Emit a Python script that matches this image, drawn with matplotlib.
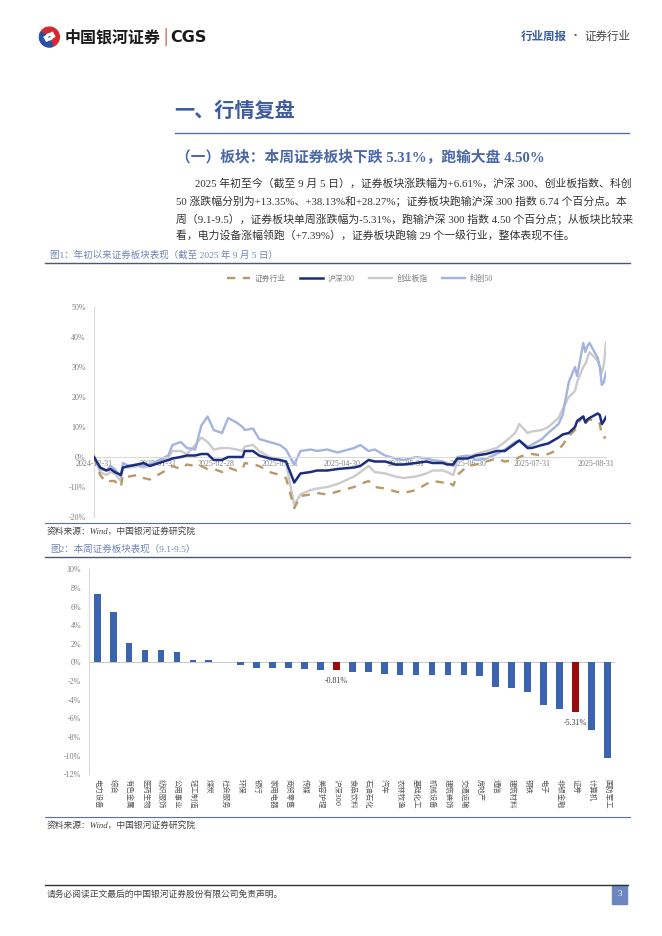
import matplotlib
matplotlib.use('Agg')
import matplotlib.pyplot as plt
from matplotlib.patches import Rectangle, Wedge, Circle
import pandas as pd

W, H = 662, 936
SERIF = ['Liberation Serif', 'Noto Sans CJK SC']
SANS = ['Noto Sans CJK SC', 'DejaVu Sans']
plt.rcParams['font.family'] = SERIF

# ---- figure 1 data: cumulative change since 2024-12-31 (%) ----
dates = ['2024-12-31', '2025-01-03', '2025-01-06', '2025-01-08', '2025-01-10', '2025-01-13',
         '2025-01-14', '2025-01-17', '2025-01-21', '2025-01-24', '2025-01-27', '2025-02-05',
         '2025-02-07', '2025-02-11', '2025-02-14', '2025-02-18', '2025-02-21', '2025-02-24',
         '2025-02-27', '2025-03-03', '2025-03-06', '2025-03-10', '2025-03-13', '2025-03-14',
         '2025-03-18', '2025-03-21', '2025-03-26', '2025-03-31', '2025-04-03', '2025-04-07',
         '2025-04-10', '2025-04-15', '2025-04-18', '2025-04-23', '2025-04-28', '2025-05-06',
         '2025-05-09', '2025-05-13', '2025-05-16', '2025-05-21', '2025-05-26', '2025-05-30',
         '2025-06-05', '2025-06-10', '2025-06-13', '2025-06-18', '2025-06-20', '2025-06-23',
         '2025-06-25', '2025-06-30', '2025-07-04', '2025-07-09', '2025-07-14', '2025-07-18',
         '2025-07-23', '2025-07-25', '2025-07-29', '2025-07-31', '2025-08-05', '2025-08-08',
         '2025-08-13', '2025-08-15', '2025-08-18', '2025-08-21', '2025-08-22', '2025-08-25',
         '2025-08-26', '2025-08-27', '2025-08-28', '2025-09-01', '2025-09-02', '2025-09-03',
         '2025-09-04', '2025-09-05']
sec = [0, -6, -8.5, -8, -8, -10, -6, -6.5, -6, -7, -7.5, -4, -3, -4, -2.5, -3, -3, -4,
       -4, -5, -3.5, -4.5, -4, -2, -2.5, -3, -5, -6, -7, -17, -13, -12.5, -12, -12.5, -11.5,
       -10, -9, -8, -10, -10.5, -11.5, -12, -11, -9, -8, -8.5, -8, -9.5, -6, -3, -2.5, -1.5,
       -0.5, -1.5, -1, 0, 1, 1, 0.5, 1, 2.5, 4, 7, 9, 11, 13.5, 11, 12, 12.5, 12, 11, 7,
       6.5, 6.61]
hs300 = [0, -3.5, -4.5, -4, -5, -6, -3.5, -3, -2.5, -2, -3, -1, -0.5, 0, 0.5, 0.5, 1, 1,
         -1, -1, 0, 0, 0, 2, 2, 0.5, -0.5, -1, -1.5, -8.5, -5.5, -5, -4.5, -4.5, -4, -3.5,
         -3, -1, -1.5, -1.5, -2.5, -2.5, -2, -1.5, -2, -2, -2.5, -2.5, -0.5, -0.5, 0.5, 1,
         2, 2, 4.5, 5.5, 3, 3, 4, 4.5, 6.5, 7.5, 8, 10, 12, 13.5, 11.5, 12.5, 13, 14.5, 14,
         11, 12, 13.35]
cyb = [0, -5, -6, -5, -5.5, -8, -3.5, -3.5, -3, -3.5, -3, 0, 2, 2, 1, 4, 6.5, 5, 2.5, 3,
       3, 2.5, 2, 3.5, 4, 2, 0, -1, -2, -16, -12.5, -11, -10.5, -10, -9, -6.5, -5, -3, -5,
       -5.5, -6.5, -7, -6.5, -5.5, -4.5, -4.5, -5, -6, -1.5, 0, 1, 2, 3, 5, 8, 11, 8, 8.5,
       9, 10, 13, 16, 20, 22, 25, 30, 31, 33, 35, 32, 30, 28, 31, 38.13]
kc50 = [0, -4, -4.5, -3, -4, -6.5, -2, -3, -2.5, -3, -2.5, 0.5, 4, 5, 3, 2.5, 10.5, 13.5,
        9, 8, 13, 11.5, 10, 9, 9.5, 6, 5, 4, 2.5, -2.5, 2, 2.5, 2, 2.5, 1.5, 3, 4, 2, 2.5,
        0.5, -0.5, -1, 0, -0.5, -1, -1.5, -2, -3, 0, 0.5, -1, -0.5, 1, 2.5, 5, 5.5, 3.5, 4,
        6, 8, 11, 14, 25, 30, 27, 38, 35, 37, 38, 33, 30, 24, 25, 28.27]
month_ticks = ['2024-12-31', '2025-01-31', '2025-02-28', '2025-03-31', '2025-04-30',
               '2025-05-31', '2025-06-30', '2025-07-31', '2025-08-31']

# ---- figure 2 data: weekly change 9.1-9.5 (%) ----
industries = ['电力设备', '综合', '有色金属', '医药生物', '纺织服饰', '公用事业', '轻工制造', '煤炭',
              '社会服务', '环保', '银行', '家用电器', '商贸零售', '传媒', '美容护理', '沪深300',
              '食品饮料', '石油石化', '汽车', '农林牧渔', '基础化工', '机械设备', '建筑装饰',
              '交通运输', '房地产', '通信', '建筑材料', '钢铁', '电子', '非银金融', '证券',
              '计算机', '国防军工']
week_chg = [7.39, 5.38, 2.04, 1.36, 1.32, 1.14, 0.29, 0.29, 0.0, -0.32, -0.54, -0.57, -0.64,
            -0.68, -0.78, -0.81, -0.99, -1.07, -1.25, -1.32, -1.36, -1.36, -1.36, -1.36,
            -1.47, -2.68, -2.75, -3.18, -4.54, -4.94, -5.31, -7.26, -10.23]
highlight = ['沪深300', '证券']


def fx(x):
    return x / W


def fy(y):
    return 1 - y / H


def hline(fig, x0, x1, y, color, lw):
    fig.add_artist(plt.Line2D([fx(x0), fx(x1)], [fy(y), fy(y)], color=color, lw=lw,
                              transform=fig.transFigure))


fig = plt.figure(figsize=(W / 100, H / 100), dpi=100)
fig.patch.set_facecolor('white')

# ---- header ----
lax = fig.add_axes([fx(38), fy(48), fx(22), 22 / H])
lax.set_xlim(0, 1)
lax.set_ylim(0, 1)
lax.set_aspect('equal')
lax.axis('off')
lax.add_patch(Circle((0.52, 0.5), 0.45, color='#D7282F'))
lax.add_patch(Wedge((0.52, 0.5), 0.45, 150, 290, color='#2552A3'))
lax.add_patch(Wedge((0.56, 0.44), 0.22, 20, 220, width=0.08, color='white'))
lax.add_patch(Wedge((0.48, 0.58), 0.22, 200, 40, width=0.08, color='white'))
fig.text(fx(65), fy(37), '中国银河证券', family=SANS, fontsize=11.5, fontweight='bold',
         color='#1a1a1a', va='center')
fig.text(fx(163), fy(37), '|', family=SANS, fontsize=11, color='#C0392B', va='center')
fig.text(fx(170), fy(37), 'CGS', family=['DejaVu Sans'], fontsize=11.5, fontweight='bold',
         color='#1a1a1a', va='center')
fig.text(fx(521), fy(36), '行业周报', family=SANS, fontsize=8.3, fontweight='bold',
         color='#3A5BA0', va='center')
fig.text(fx(575), fy(36), '·', family=SANS, fontsize=8, color='#555555', va='center',
         ha='center')
fig.text(fx(584), fy(36), '证券行业', family=SANS, fontsize=8.3, color='#444444', va='center')

# ---- section titles and paragraph ----
fig.text(fx(174), fy(110), '一、行情复盘', family=SANS, fontsize=14.5, fontweight='bold',
         color='#3F5C9E', va='center')
hline(fig, 175, 629, 133, '#5B6FA6', 1.0)
fig.text(fx(176), fy(157), '（一）板块：本周证券板块下跌 5.31%，跑输大盘 4.50%',
         fontsize=10.6, fontweight='bold', color='#4A67A6', va='center')

para = ['2025 年初至今（截至 9 月 5 日），证券板块涨跌幅为+6.61%，沪深 300、创业板指数、科创',
        '50 涨跌幅分别为+13.35%、+38.13%和+28.27%；证券板块跑输沪深 300 指数 6.74 个百分点。本',
        '周（9.1-9.5），证券板块单周涨跌幅为-5.31%，跑输沪深 300 指数 4.50 个百分点；从板块比较来',
        '看，电力设备涨幅领跑（+7.39%），证券板块跑输 29 个一级行业，整体表现不佳。']
para_y = [183, 201, 219, 236]
para_x = [195, 176, 176, 176]
for s, x, y in zip(para, para_x, para_y):
    fig.text(fx(x), fy(y), s, fontsize=7.8, color='#333333', va='center')

# ---- figure 1 ----
cap_color = '#6F84B8'
fig.text(fx(50), fy(255), '图1：年初以来证券板块表现（截至 2025 年 9 月 5 日）', fontsize=6.8,
         color=cap_color, va='center')
hline(fig, 45, 630, 263, '#4A5878', 1.0)

d = pd.to_datetime(dates)
ax1 = fig.add_axes([fx(94), fy(517), fx(606 - 94), (517 - 307) / H])
l_sec, = ax1.plot(d, sec, color='#B9996A', lw=1.7, ls=(0, (3.5, 3.2)), label='证券行业', zorder=3)
l_cyb, = ax1.plot(d, cyb, color='#CBCBCB', lw=1.7, label='创业板指', zorder=2)
l_kc, = ax1.plot(d, kc50, color='#A3B4DF', lw=1.7, label='科创50', zorder=2.5)
l_hs, = ax1.plot(d, hs300, color='#1C2D7E', lw=1.8, label='沪深300', zorder=4)
ax1.set_ylim(-20, 50)
ax1.set_xlim(pd.Timestamp('2024-12-31'), pd.Timestamp('2025-09-05'))
ax1.set_yticks(range(-20, 51, 10))
ax1.set_yticklabels([f'{v}%' for v in range(-20, 51, 10)])
ax1.set_xticks(pd.to_datetime(month_ticks))
ax1.set_xticklabels(month_ticks)
for s in ['top', 'right']:
    ax1.spines[s].set_visible(False)
ax1.spines['bottom'].set_position(('data', 0))
ax1.spines['bottom'].set_color('#D9D9D9')
ax1.spines['left'].set_color('#D9D9D9')
ax1.spines['bottom'].set_linewidth(0.8)
ax1.spines['left'].set_linewidth(0.8)
ax1.tick_params(axis='both', length=0, labelsize=5.8, labelcolor='#7F7F7F')
ax1.tick_params(axis='x', pad=2.5)
ax1.tick_params(axis='y', pad=6)
ax1.set_axisbelow(True)
ax1.patch.set_alpha(0)
ax1.legend([l_sec, l_hs, l_cyb, l_kc], ['证券行业', '沪深300', '创业板指', '科创50'],
           loc='center', bbox_to_anchor=(fx(360), fy(279)), bbox_transform=fig.transFigure,
           ncol=4, frameon=False, fontsize=5.6, handlelength=3.0, columnspacing=1.8,
           handletextpad=0.6, labelcolor='#7F7F7F')

hline(fig, 45, 630, 523, '#5B6FA6', 0.8)
fig.text(fx(47), fy(531), '资料来源：Wind，中国银河证券研究院', fontsize=6.3, style='italic',
         color='#444444', va='center')

# ---- figure 2 ----
fig.text(fx(50), fy(549), '图2：本周证券板块表现（9.1-9.5）', fontsize=6.8, color=cap_color,
         va='center')
hline(fig, 45, 630, 557, '#4A5878', 1.0)

ax2 = fig.add_axes([fx(89.3), fy(774.3), fx(615.3 - 89.3), (774.3 - 569.3) / H])
pos = list(range(len(industries)))
colors = ['#9B0D0D' if n in highlight else '#3C63B0' for n in industries]
ax2.bar(pos, week_chg, width=0.42, color=colors, zorder=3)
ax2.axhline(0, color='#BFBFBF', lw=0.6, zorder=2)
ax2.set_xlim(-0.5, len(industries) - 0.5)
ax2.set_ylim(-12, 10)
ax2.set_yticks(range(-12, 11, 2))
ax2.set_yticklabels([f'{v}%' for v in range(-12, 11, 2)])
ax2.set_xticks(pos)
ax2.set_xticklabels(industries, rotation=-90, ha='center', va='top', family=SANS)
for s in ['top', 'right', 'bottom']:
    ax2.spines[s].set_visible(False)
ax2.spines['left'].set_color('#D9D9D9')
ax2.spines['left'].set_linewidth(0.8)
ax2.tick_params(axis='y', length=0, labelsize=5.8, labelcolor='#7F7F7F', pad=6)
ax2.tick_params(axis='x', length=0, labelsize=5.3, labelcolor='#595959', pad=3.5)
ax2.patch.set_alpha(0)
for i, (n, v) in enumerate(zip(industries, week_chg)):
    if n in highlight:
        ax2.annotate(f'{v:.2f}%', (i, v), xytext=(0, -8), textcoords='offset points',
                     ha='center', va='center', fontsize=5.8, color='#404040')

hline(fig, 45, 630, 817, '#5B6FA6', 0.8)
fig.text(fx(47), fy(825), '资料来源：Wind，中国银河证券研究院', fontsize=6.3, style='italic',
         color='#444444', va='center')

# ---- footer ----
hline(fig, 45, 628, 885, '#333333', 1.0)
fig.text(fx(47), fy(894), '请务必阅读正文最后的中国银河证券股份有限公司免责声明。', fontsize=6.3,
         color='#444444', va='center')
fig.add_artist(Rectangle((fx(612), fy(904)), fx(15), 19 / H, transform=fig.transFigure,
                         color='#6C86BF'))
fig.text(fx(619.5), fy(894.5), '3', fontsize=6.5, color='white', ha='center', va='center')

fig.savefig('out.png', dpi=100)
